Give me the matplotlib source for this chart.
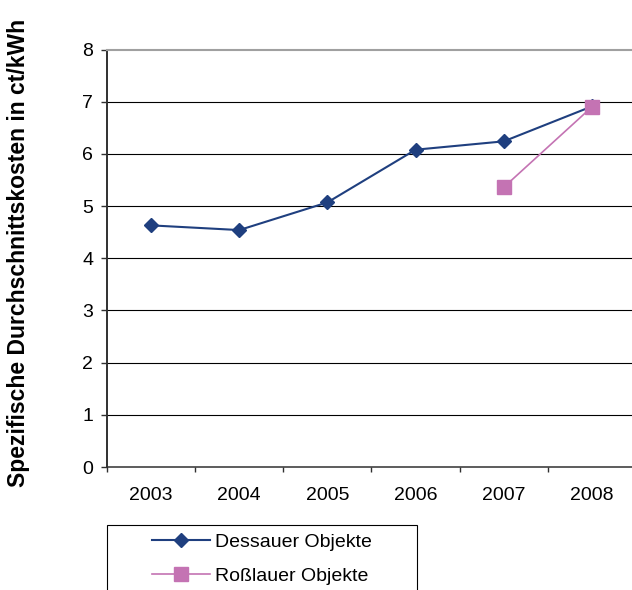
"""Spezifische Durchschnittskosten, Dessau vs. Roßlau, 2003-2008."""
import numpy as np
import matplotlib
matplotlib.use("Agg")   # headless
import matplotlib.pyplot as plt
from matplotlib.lines import Line2D
from matplotlib.patches import Rectangle

plt.rcParams["font.family"] = ["Liberation Sans", "DejaVu Sans"]

years = ["2003", "2004", "2005", "2006", "2007", "2008"]
dessau = [4.63, 4.54, 5.07, 6.08, 6.24, 6.91]
rosslau = [np.nan, np.nan, np.nan, np.nan, 5.36, 6.90]
series_names = ["Dessauer Objekte", "Roßlauer Objekte"]
y_ticks = [0, 1, 2, 3, 4, 5, 6, 7, 8]
y_label = "Spezifische Durchschnittskosten in ct/kWh"

NAVY = "#1F3F7F"
PINK = "#C473B3"
W, H = 632, 590   # figure size in px

fig = plt.figure(figsize=(W / 100, H / 100), dpi=100)
# plot area runs a bit past the right edge, like the cropped original
ax = fig.add_axes([107 / W, (H - 467) / H, 529 / W, (467 - 49.5) / H])

x = np.arange(len(years))
ax.plot(x, dessau, color=NAVY, lw=1.5, marker="D", ms=7.4, zorder=3)
ax.plot(x, rosslau, color=PINK, lw=1.2, marker="s", ms=9.4, zorder=4)

ax.set_xlim(-0.5, len(years) - 0.5)
ax.set_ylim(y_ticks[0], y_ticks[-1])
ax.set_yticks(y_ticks)
ax.tick_params(axis="y", direction="out", length=4.5, width=1, color="#303030",
               pad=5.5, labelsize=14)

# year labels in the middle, tick marks on the category borders
ax.set_xticks(x)
ax.set_xticklabels(years)
ax.set_xticks(np.arange(len(years) + 1) - 0.5, minor=True)
ax.tick_params(axis="x", which="major", length=0, pad=14.4, labelsize=14)
ax.tick_params(axis="x", which="minor", direction="out", length=3.8, width=1,
               color="#303030")

for v in y_ticks[1:-1]:
    ax.axhline(v, color="black", lw=0.8, zorder=1)

ax.spines["right"].set_visible(False)
ax.spines["top"].set_color("#A0A0A0")
ax.spines["top"].set_linewidth(1.5)
ax.spines["left"].set_color("#303030")
ax.spines["left"].set_linewidth(1.4)
ax.spines["bottom"].set_color("#303030")
ax.spines["bottom"].set_linewidth(1.1)

fig.text(19 / W, 1 - 487 / H, y_label, rotation=90, ha="center", va="bottom",
         fontsize=16.5, fontweight="bold")

# legend frame is wider than its content and runs off the bottom edge
fig.patches.append(Rectangle((107 / W, -0.05), 310 / W, (H - 525) / H + 0.05,
                             transform=fig.transFigure, facecolor="white",
                             edgecolor="black", lw=0.8))
handles = [Line2D([], [], color=NAVY, lw=1.5, marker="D", ms=7.4),
           Line2D([], [], color=PINK, lw=1.2, marker="s", ms=9.4)]
fig.legend(handles, series_names, loc="upper left",
           bbox_to_anchor=(152 / W, 1 - 533 / H), frameon=False, fontsize=14,
           borderpad=0, borderaxespad=0, handlelength=2.98, handletextpad=0.25,
           labelspacing=0.86)

fig.savefig("out.png", dpi=100)
